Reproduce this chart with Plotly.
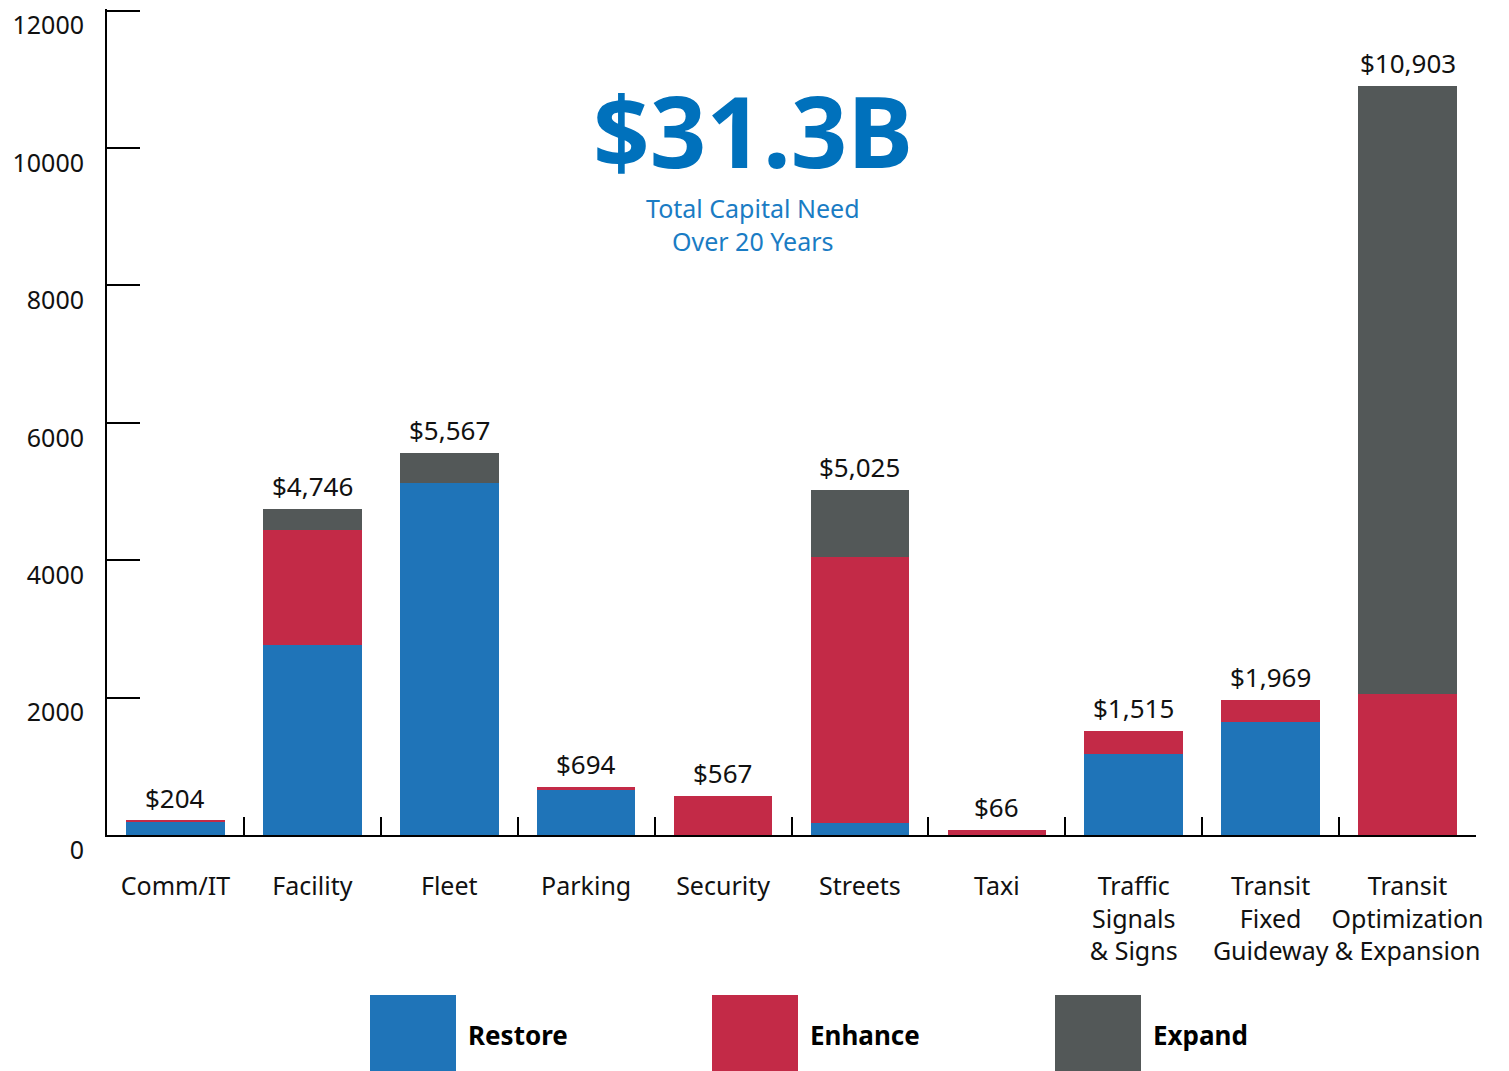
import plotly.graph_objects as go

categories = ["Comm/IT", "Facility", "Fleet", "Parking", "Security", "Streets", "Taxi",
              "Traffic<br>Signals<br>& Signs", "Transit<br>Fixed<br>Guideway",
              "Transit<br>Optimization<br>& Expansion"]
restore = [190, 2770, 5130, 654, 0, 174, 0, 1174, 1652, 0]
enhance = [14, 1665, 0, 40, 567, 3869, 66, 341, 317, 2054]
expand = [0, 311, 437, 0, 0, 982, 0, 0, 0, 8849]
totals = [204, 4746, 5567, 694, 567, 5025, 66, 1515, 1969, 10903]
series = ["Restore", "Enhance", "Expand"]
colors = ["#1F74B8", "#C32A47", "#535858"]
yticks = [0, 2000, 4000, 6000, 8000, 10000, 12000]

# page body adds an 8px margin, so the figure is shrunk to fit the window
OFF = 8
W, H = 1509 - OFF, 1071 - OFF
L, R, T, B = 107 - OFF, 33, 1, 236
FONT = "Noto Sans"


def px_x(x):
    return (x - OFF - L) / (W - L - R)


def px_y(y):
    return (H - B - (y - OFF)) / (H - T - B)


fig = go.Figure()
for name, vals, col in zip(series, [restore, enhance, expand], colors):
    fig.add_trace(go.Bar(x=categories, y=vals, name=name, marker_color=col,
                         marker_line_width=0, width=0.72, showlegend=False))

# value labels on top of each bar
for cat, tot in zip(categories, totals):
    fig.add_annotation(x=cat, y=tot, text="${:,}".format(tot), showarrow=False,
                       yanchor="bottom", yshift=3,
                       font=dict(family=FONT, size=26, color="#111111"))

# headline
fig.add_annotation(xref="paper", yref="paper", x=px_x(753), y=px_y(130),
                   yanchor="middle", text="<b>$31.3B</b>", showarrow=False,
                   font=dict(family=FONT, size=99, color="#0071BC"))
fig.add_annotation(xref="paper", yref="paper", x=px_x(753), y=px_y(225),
                   yanchor="middle", text="Total Capital Need<br>Over 20 Years",
                   showarrow=False, font=dict(family=FONT, size=25, color="#1A7CC4"))

# custom legend below the axis
box_left = [370, 712, 1055]
for name, col, bx in zip(series, colors, box_left):
    fig.add_shape(type="rect", xref="paper", yref="paper",
                  x0=px_x(bx), x1=px_x(bx + 86), y0=px_y(995), y1=px_y(1080),
                  fillcolor=col, line_width=0)
    fig.add_annotation(xref="paper", yref="paper", x=px_x(bx + 96), y=px_y(1035),
                       xanchor="left", yanchor="middle", text="<b>%s</b>" % name,
                       showarrow=False,
                       font=dict(family=FONT, size=26, color="#000000"))

fig.update_layout(
    barmode="stack",
    width=W, height=H,
    margin=dict(l=L, r=R, t=T, b=B),
    plot_bgcolor="white", paper_bgcolor="white",
    font=dict(family=FONT, size=25, color="#111111"),
    xaxis=dict(showline=True, linecolor="black", linewidth=2, automargin=False,
               ticks="inside", tickson="boundaries", ticklen=18, tickwidth=2,
               tickcolor="black", ticklabelstandoff=28, showgrid=False, tickangle=0,
               tickfont=dict(family=FONT, size=25)),
    yaxis=dict(range=[0, 12025], tickvals=yticks, ticktext=[str(v) for v in yticks],
               showline=True, linecolor="black", automargin=False,
               linewidth=2, ticks="inside", ticklen=33, tickwidth=2, tickcolor="black",
               showgrid=False, zeroline=False, ticklabelshift=15,
               ticklabelstandoff=16, ticklabeloverflow="allow",
               tickfont=dict(family=FONT, size=25)),
)

fig.write_html("out.html")
